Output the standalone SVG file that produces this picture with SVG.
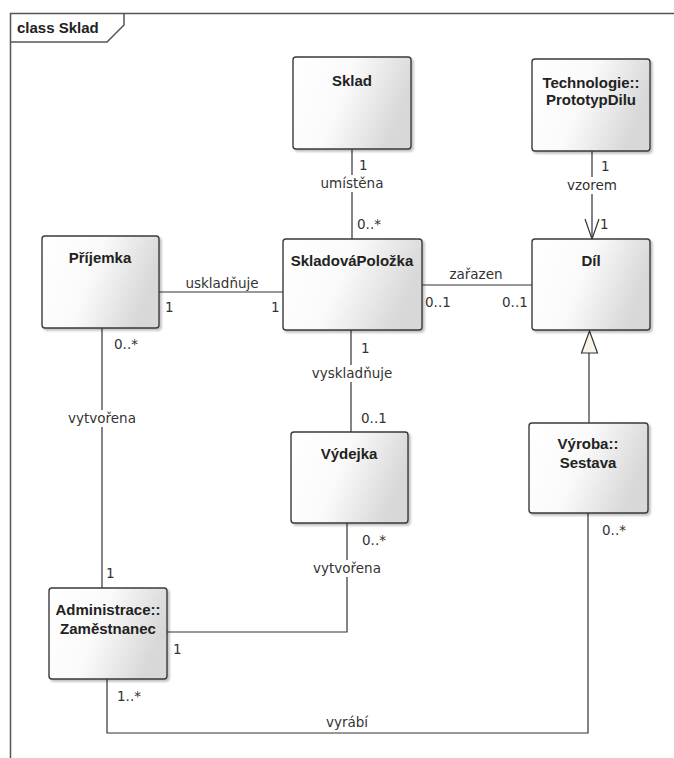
<svg xmlns="http://www.w3.org/2000/svg" width="674" height="758" viewBox="0 0 674 758">
<defs>
<linearGradient id="g" x1="0" y1="0" x2="1" y2="0.3">
<stop offset="0" stop-color="#ffffff"/>
<stop offset="0.5" stop-color="#fafafa"/>
<stop offset="1" stop-color="#d8d8d8"/>
</linearGradient>
<filter id="sh" x="-10%" y="-10%" width="130%" height="130%">
<feDropShadow dx="2" dy="2" stdDeviation="1.2" flood-color="#000" flood-opacity="0.25"/>
</filter>
</defs>
<style>
.box{fill:url(#g);stroke:#3a3a3a;stroke-width:1.4;filter:url(#sh)}
.nm{font-family:"Liberation Sans",Arial,sans-serif;font-size:15px;font-weight:bold;fill:#222;text-anchor:middle}
.ln{fill:none;stroke:#333;stroke-width:1.2}
.lb{font-family:"DejaVu Sans","Liberation Sans",sans-serif;font-size:13.5px;fill:#333}
.c{text-anchor:middle}
.bg{fill:#fff}
</style>
<rect width="674" height="758" fill="#fff"/>
<g id="frame">
<path d="M10.5,758 L10.5,13.5 L674,13.5" fill="none" stroke="#555" stroke-width="1.5"/>
<path d="M10.5,42 L107,42 L124,25 L124,13.5" fill="none" stroke="#555" stroke-width="1.5"/>
<text x="17" y="33" font-family="Liberation Sans,Arial,sans-serif" font-size="15" font-weight="bold" fill="#222">class Sklad</text>
</g>
<g id="connectors">
<path class="ln" d="M352,149 L352,239"/>
<path class="ln" d="M592,151 L592,239"/>
<path class="ln" d="M585,219 L592,239 L599,219"/>
<path class="ln" d="M159,292 L283,292"/>
<path class="ln" d="M422,285 L532,285"/>
<path class="ln" d="M102,328 L102,588"/>
<path class="ln" d="M351,330 L351,432"/>
<path class="ln" d="M347,523 L347,632 L167,632"/>
<path class="ln" d="M107,679 L107,733 L588,733 L588,513"/>
<path class="ln" d="M589,423 L589,353"/>
<path d="M589.5,331 L597.5,353 L581.5,353 Z" fill="#fbf3ea" stroke="#333" stroke-width="1.2"/>
<rect class="bg" x="315" y="175" width="74" height="17"/>
<text class="lb c" x="352" y="188">umístěna</text>
<text class="lb" x="359" y="170">1</text>
<text class="lb" x="357" y="229">0..*</text>
<rect class="bg" x="566" y="177" width="52" height="17"/>
<text class="lb c" x="592" y="190">vzorem</text>
<text class="lb" x="601" y="171">1</text>
<text class="lb" x="600" y="229">1</text>
<text class="lb c" x="222" y="288">uskladňuje</text>
<text class="lb" x="165" y="312">1</text>
<text class="lb" x="271" y="312">1</text>
<text class="lb c" x="476" y="279">zařazen</text>
<text class="lb" x="425" y="307">0..1</text>
<text class="lb" x="502" y="307">0..1</text>
<text class="lb" x="114" y="349">0..*</text>
<rect class="bg" x="67" y="410" width="70" height="17"/>
<text class="lb c" x="102" y="423">vytvořena</text>
<text class="lb" x="106" y="578">1</text>
<text class="lb" x="361" y="353">1</text>
<rect class="bg" x="307" y="365" width="90" height="17"/>
<text class="lb c" x="352" y="378">vyskladňuje</text>
<text class="lb" x="361" y="423">0..1</text>
<text class="lb" x="362" y="545">0..*</text>
<rect class="bg" x="312" y="560" width="70" height="17"/>
<text class="lb c" x="347" y="573">vytvořena</text>
<text class="lb" x="173" y="654">1</text>
<text class="lb" x="117" y="701">1..*</text>
<text class="lb c" x="347" y="727">vyrábí</text>
<text class="lb" x="602" y="535">0..*</text>
</g>
<g id="Sklad">
<rect class="box" x="293" y="57" width="118" height="92" rx="3"/>
<text class="nm" x="352" y="86">Sklad</text>
</g>
<g id="PrototypDilu">
<rect class="box" x="532" y="59" width="118" height="92" rx="3"/>
<text class="nm" x="591" y="88">Technologie::</text>
<text class="nm" x="591" y="105">PrototypDilu</text>
</g>
<g id="Prijemka">
<rect class="box" x="42" y="236" width="117" height="92" rx="3"/>
<text class="nm" x="100" y="263">Příjemka</text>
</g>
<g id="SkladovaPolozka">
<rect class="box" x="283" y="239" width="139" height="91" rx="3"/>
<text class="nm" x="352" y="266">SkladováPoložka</text>
</g>
<g id="Dil">
<rect class="box" x="532" y="239" width="118" height="91" rx="3"/>
<text class="nm" x="591" y="266">Díl</text>
</g>
<g id="Vydejka">
<rect class="box" x="291" y="432" width="117" height="91" rx="3"/>
<text class="nm" x="349" y="459">Výdejka</text>
</g>
<g id="Sestava">
<rect class="box" x="529" y="423" width="119" height="90" rx="3"/>
<text class="nm" x="588" y="449">Výroba::</text>
<text class="nm" x="588" y="468">Sestava</text>
</g>
<g id="Zamestnanec">
<rect class="box" x="49" y="588" width="118" height="91" rx="3"/>
<text class="nm" x="108" y="615">Administrace::</text>
<text class="nm" x="108" y="634">Zaměstnanec</text>
</g>
</svg>
